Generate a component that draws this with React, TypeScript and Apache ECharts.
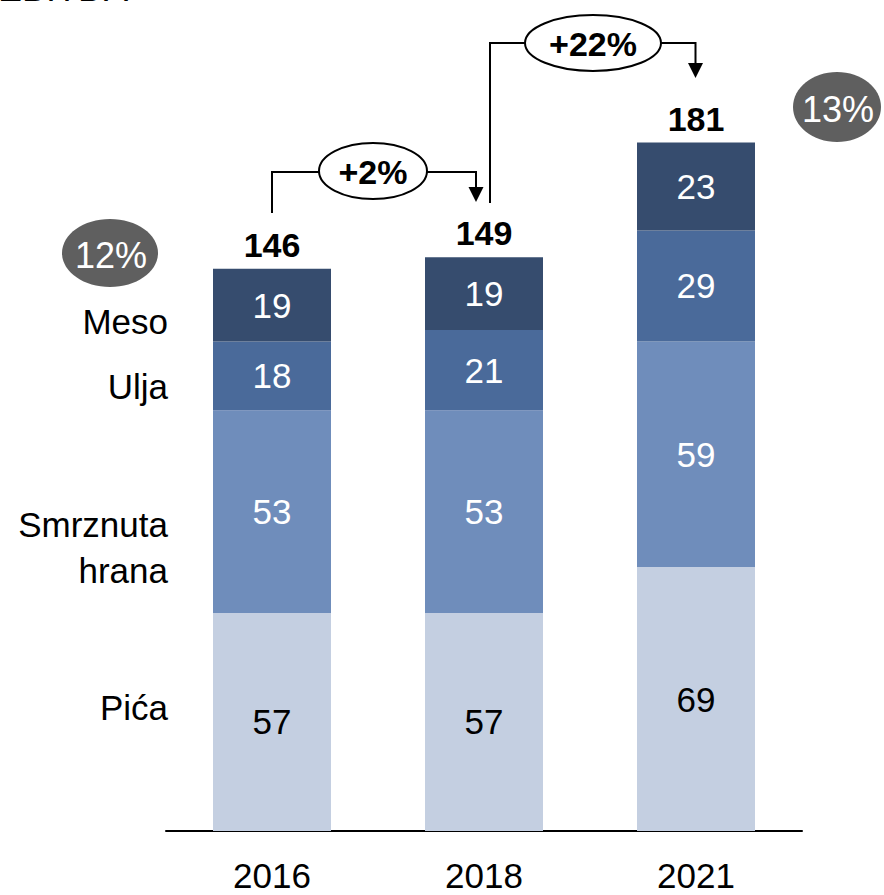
import React, { useEffect, useRef } from "react";
import * as echarts from "echarts";

const years = ["2016", "2018", "2021"];
const pica = [57, 57, 69];
const smrznuta = [53, 53, 59];
const ulja = [18, 21, 29];
const meso = [19, 19, 23];
const totals = [146, 149, 181];
const segmentNames = ["Pića", "Smrznuta hrana", "Ulja", "Meso"];
const growthLabels = ["+2%", "+22%"];
const marginLabels = ["12%", "13%"];

const FONT = "'Liberation Sans', Arial, sans-serif";

export default function App() {
  const ref = useRef<HTMLDivElement>(null);
  useEffect(() => {
    if (!ref.current) return;
    const chart = echarts.init(ref.current, undefined, { renderer: "svg" });
    const segLabel = (color: string) => ({
      show: true,
      position: "inside" as const,
      color,
      fontSize: 35,
      fontFamily: FONT,
    });
    const series: any[] = [
      { name: segmentNames[0], data: pica, color: "#C4CFE1", label: segLabel("#000") },
      { name: segmentNames[1], data: smrznuta, color: "#6F8DBB", label: segLabel("#fff") },
      { name: segmentNames[2], data: ulja, color: "#4A6A9A", label: segLabel("#fff") },
      { name: segmentNames[3], data: meso, color: "#364C6E", label: segLabel("#fff") },
    ].map((s) => ({ ...s, type: "bar", stack: "t", barWidth: 118 }));
    series.push({
      name: "total",
      type: "bar",
      stack: "t",
      barWidth: 118,
      data: totals.map(() => 0),
      label: {
        show: true,
        position: "top",
        distance: 7,
        color: "#000",
        fontSize: 34,
        fontWeight: "bold",
        fontFamily: FONT,
        formatter: (p: any) => String(totals[p.dataIndex]),
      },
    });
    chart.setOption({
      animation: false,
      textStyle: { fontFamily: FONT },
      grid: { left: 166, width: 636, top: 66, bottom: 64 },
      xAxis: {
        type: "category",
        data: years,
        axisLine: { lineStyle: { color: "#000", width: 2 } },
        axisTick: { show: false },
        axisLabel: { color: "#000", fontSize: 35, margin: 27, fontFamily: FONT },
      },
      yAxis: { type: "value", min: 0, max: 200, show: false, splitLine: { show: false } },
      series,
    });

    const cx = years.map((_, i) => chart.convertToPixel({ xAxisIndex: 0 }, i) as number);
    const lineStyle = { stroke: "#000", lineWidth: 2, fill: null };
    const txt = (x: number, y: number, text: string, extra: any = {}) => ({
      type: "text",
      x,
      y,
      style: {
        text,
        fontSize: 35,
        fontFamily: FONT,
        fill: "#000",
        align: "center",
        verticalAlign: "middle",
        ...extra,
      },
    });
    const arrow = (x: number, tipY: number) => ({
      type: "polygon",
      shape: { points: [[x - 7.5, tipY - 15], [x + 7.5, tipY - 15], [x, tipY]] },
      style: { fill: "#000" },
    });
    const a1x = cx[1] - 8;
    const a2x = cx[2] - 0.5;
    const graphic: any[] = [
      txt(-2, 6, "EBITDA", { align: "left", verticalAlign: "bottom", fontSize: 36 }),
      // +2% connector
      { type: "polyline", shape: { points: [[cx[0], 213], [cx[0], 172], [a1x, 172], [a1x, 189]] }, style: lineStyle },
      arrow(a1x, 202),
      { type: "ellipse", shape: { cx: 373, cy: 171, rx: 54, ry: 28 }, style: { fill: "#fff", stroke: "#000", lineWidth: 2 } },
      txt(373, 172, growthLabels[0], { fontWeight: "bold", fontSize: 34 }),
      // +22% connector
      { type: "polyline", shape: { points: [[cx[1] + 6, 203], [cx[1] + 6, 43], [a2x, 43], [a2x, 64]] }, style: lineStyle },
      arrow(a2x, 78),
      { type: "ellipse", shape: { cx: 593, cy: 43, rx: 68, ry: 28 }, style: { fill: "#fff", stroke: "#000", lineWidth: 2 } },
      txt(593, 44, growthLabels[1], { fontWeight: "bold", fontSize: 34 }),
      // margin bubbles
      { type: "ellipse", shape: { cx: 110, cy: 253, rx: 48, ry: 34 }, style: { fill: "#5F5F5F" } },
      txt(111, 255, marginLabels[0], { fill: "#fff", fontSize: 36 }),
      { type: "ellipse", shape: { cx: 837, cy: 107, rx: 44, ry: 35 }, style: { fill: "#5F5F5F" } },
      txt(838, 109, marginLabels[1], { fill: "#fff", fontSize: 36 }),
      // segment names
      txt(168, 321, segmentNames[3], { align: "right" }),
      txt(168, 386, segmentNames[2], { align: "right" }),
      txt(168, 524, "Smrznuta", { align: "right" }),
      txt(168, 570, "hrana", { align: "right" }),
      txt(168, 707, segmentNames[0], { align: "right" }),
    ];
    chart.setOption({ graphic });
    return () => chart.dispose();
  }, []);
  return (
    <div
      ref={ref}
      style={{ position: "fixed", left: 0, top: 0, width: 884, height: 895, background: "#fff" }}
    />
  );
}
